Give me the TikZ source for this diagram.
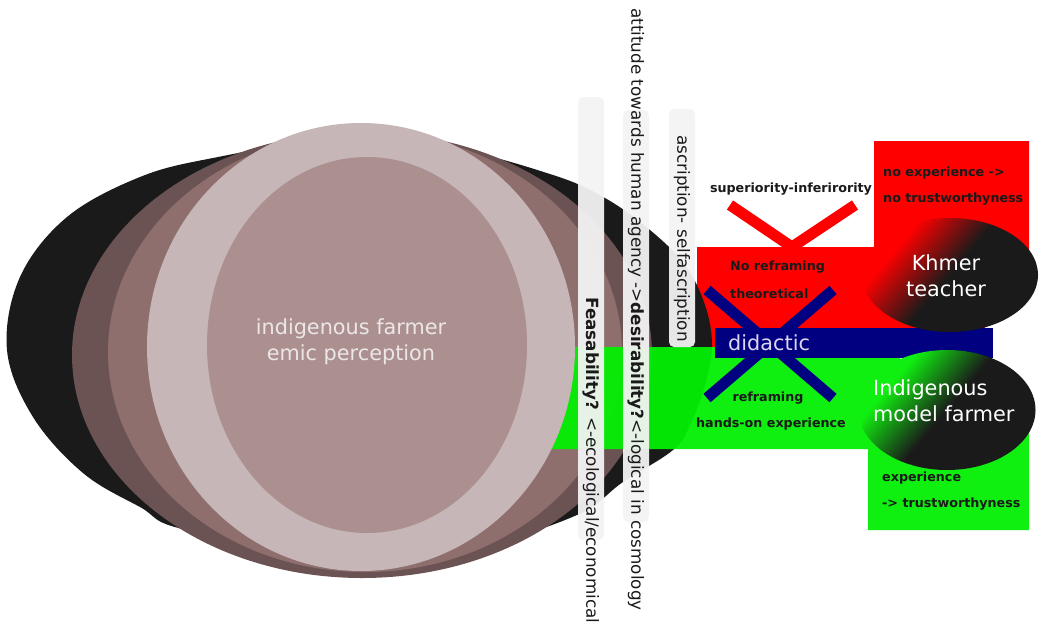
\documentclass[tikz,border=0pt]{standalone}
\usepackage{fontspec}
\setmainfont{DejaVu Sans}
\usetikzlibrary{shapes.geometric}

\definecolor{ink}{HTML}{1A1A1A}
\definecolor{darkbrown}{HTML}{6C5353}
\definecolor{midbrown}{HTML}{8E6F6D}
\definecolor{palering}{HTML}{C6B6B7}
\definecolor{innerbrown}{HTML}{AC9090}
\definecolor{grn}{HTML}{10F010}
\definecolor{grnbase}{HTML}{03EF03}
\definecolor{rd}{HTML}{FF0000}
\definecolor{navy}{HTML}{000080}
\definecolor{boxgray}{HTML}{F3F3F3}
\definecolor{lighttext}{HTML}{EDE6E6}
\definecolor{lavender}{HTML}{DCD6EE}

% corner glow fading into black for the two actor ellipses
\pgfdeclarehorizontalshading{redtoink}{100bp}{color(0bp)=(rd); color(30bp)=(rd); color(50bp)=(ink); color(100bp)=(ink)}
\pgfdeclarehorizontalshading{greentoink}{100bp}{color(0bp)=(grn); color(30bp)=(grn); color(50bp)=(ink); color(100bp)=(ink)}

\begin{document}
\begin{tikzpicture}[x=1pt,y=-1pt,
  lbl/.style={font=\bfseries\fontsize{12.7}{15}\selectfont, text=ink, inner sep=0pt},
  big/.style={font=\fontsize{20.8}{26}\selectfont, inner sep=0pt},
  vtext/.style={font=\fontsize{16.8}{20}\selectfont, text=ink, rotate=-90, anchor=west, inner sep=0pt},
  vbox/.style={fill=boxgray, opacity=0.95, rounded corners=5pt},
  crossbar/.style={line width=11pt}
]
\useasboundingbox (0,0) rectangle (1043,627);

% red field behind the teacher side
\fill[rd] (697,247) -- (874,247) -- (874,141) -- (1029,141) -- (1029,275)
  -- (985,275) -- (985,347) -- (697,347) -- cycle;

% layered perception ellipses
\fill[ink] plot[smooth cycle, tension=0.6] coordinates {
  (7,350) (20,277) (67,217) (140,177) (213,158) (330,140) (450,148)
  (553,175) (605,198) (650,230) (685,265) (705,305) (712,345) (705,385)
  (690,425) (673,450) (623,482) (577,515) (480,545) (360,555) (187,530)
  (140,507) (83,473) (33,417)};
\fill[darkbrown] (362,355) ellipse [x radius=290, y radius=223];
\fill[midbrown] (365,352) ellipse [x radius=257, y radius=220];

% green field behind the model farmer side
\fill[grnbase, opacity=0.95] (540,347) -- (900,347) -- (900,430) -- (1029,430)
  -- (1029,530) -- (868,530) -- (868,449) -- (540,449) -- cycle;

\fill[palering] (361,347) ellipse [x radius=214, y radius=224];
\fill[innerbrown] (367,345) ellipse [x radius=160, y radius=188];
\node[big, text=lighttext, align=center] (emic) at (351,342)
  {indigenous farmer\\emic perception};

% vertical annotation strips
\fill[vbox] (578,97) rectangle (604,540);
\fill[vbox] (623,110) rectangle (649,522);
\fill[vbox] (669,109) rectangle (695,347);
\node[vtext] (feas) at (591,297)
  {\textbf{Feasability?} <-ecological/economical};
\node[vtext] (desir) at (636,8)
  {attitude towards human agency ->\textbf{desirability?}<-logical in cosmology};
\node[vtext] (ascr) at (682,135) {ascription- selfascription};

% superiority-inferiority mark
\coordinate (vl) at (730,205);
\coordinate (vtip) at (792,247);
\coordinate (vr) at (855,205);
\draw[rd, crossbar] (vl) -- (vtip) -- (vr);

% crossed-out didactic link
\coordinate (xa) at (707,290);
\coordinate (xb) at (833,398);
\coordinate (xc) at (833,290);
\coordinate (xd) at (707,398);
\draw[navy, crossbar] (xa) -- (xb);
\draw[navy, crossbar] (xc) -- (xd);
\fill[navy] (715,328) rectangle (993,358);
\node[big, text=lavender, anchor=west] (didactic) at (728,343) {didactic};

% actors
\node[ellipse, minimum width=176, minimum height=114, inner sep=0pt,
  shading=redtoink, shading angle=-40] (khmer) at (950,275) {};
\node[big, text=white, align=center] (khmertxt) at (946,276) {Khmer\\teacher};
\node[ellipse, minimum width=177, minimum height=120, inner sep=0pt,
  shading=greentoink, shading angle=-40] (model) at (947,410) {};
\node[big, text=white, align=left, anchor=west] (modeltxt) at (873,401)
  {Indigenous\\model farmer};

% labels
\node[lbl] (sup) at (791,189) {superiority-inferirority};
\node[lbl, anchor=west] (noexp) at (883,173) {no experience ->};
\node[lbl, anchor=west] (notrust) at (883,199) {no trustworthyness};
\node[lbl, anchor=west] (noref) at (730,267) {No reframing};
\node[lbl, anchor=west] (theo) at (730,294) {theoretical};
\node[lbl] (refr) at (768,398) {reframing};
\node[lbl] (hands) at (771,424) {hands-on experience};
\node[lbl, anchor=west] (exper) at (882,478) {experience};
\node[lbl, anchor=west] (trust) at (882,504) {-> trustworthyness};
\end{tikzpicture}
\end{document}
